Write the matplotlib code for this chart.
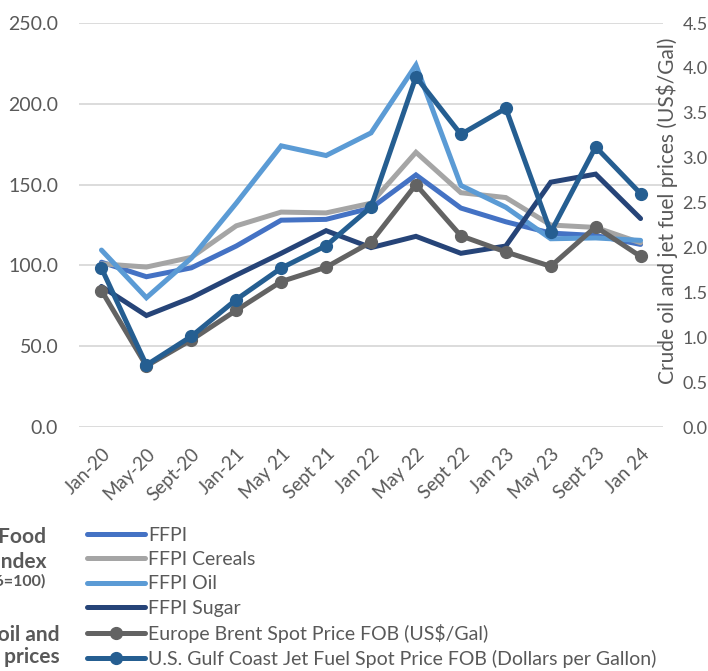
import matplotlib
matplotlib.use("Agg")
import matplotlib.pyplot as plt
from matplotlib.ticker import FormatStrFormatter

plt.rcParams['font.family'] = ['Lato', 'DejaVu Sans']

# data
periods = ["Jan-20", "May-20", "Sept-20", "Jan-21", "May 21", "Sept 21", "Jan 22",
           "May 22", "Sept 22", "Jan 23", "May 23", "Sept 23", "Jan 24"]

ffpi = [102.0, 93.0, 98.5, 112.0, 128.0, 128.5, 135.5, 156.0, 135.5, 127.0, 120.0, 118.5, 113.0]
ffpi_cereals = [101.0, 99.0, 105.0, 124.5, 133.0, 132.5, 138.5, 170.0, 145.0, 142.0, 125.0, 123.5, 114.0]
ffpi_oil = [109.5, 80.0, 104.5, 138.5, 174.0, 168.0, 182.0, 224.0, 149.5, 136.0, 116.5, 117.0, 115.5]
ffpi_sugar = [87.0, 69.0, 80.0, 94.0, 107.5, 121.5, 111.0, 118.0, 107.5, 112.0, 151.5, 156.5, 129.0]

brent = [1.52, 0.68, 0.97, 1.30, 1.62, 1.78, 2.06, 2.70, 2.13, 1.95, 1.79, 2.23, 1.90]
jet_fuel = [1.77, 0.69, 1.01, 1.42, 1.77, 2.02, 2.45, 3.90, 3.26, 3.55, 2.17, 3.12, 2.60]

left_names = ["FFPI", "FFPI Cereals", "FFPI Oil", "FFPI Sugar"]
right_names = ["Europe Brent Spot Price FOB (US$/Gal)",
               "U.S. Gulf Coast Jet Fuel Spot Price FOB (Dollars per Gallon)"]

grey = "#595959"
fig = plt.figure(figsize=(7.08, 6.71), dpi=100)
ax = fig.add_axes([0.1116, 0.3636, 0.8249, 0.6021])
ax2 = ax.twinx()

x = range(len(periods))
handles = []
for vals, name, col in zip([ffpi, ffpi_cereals, ffpi_oil, ffpi_sugar], left_names,
                           ["#4472C4", "#A5A5A5", "#5B9BD5", "#264478"]):
    h, = ax.plot(x, vals, color=col, lw=3.6, label=name, solid_capstyle="round",
                 solid_joinstyle="miter")
    handles.append(h)
for vals, name, col in zip([brent, jet_fuel], right_names, ["#636363", "#255E91"]):
    h, = ax2.plot(x, vals, color=col, lw=3.6, marker="o", ms=8.5, label=name,
                  solid_capstyle="round")
    handles.append(h)

ax.set_xlim(-0.5, len(periods) - 0.5)
ax.set_ylim(0, 250)
ax.set_yticks(range(0, 251, 50))
ax.yaxis.set_major_formatter(FormatStrFormatter("%.1f"))
ax2.set_ylim(0, 4.5)
ax2.set_yticks([i * 0.5 for i in range(10)])
ax2.yaxis.set_major_formatter(FormatStrFormatter("%.1f"))

ax.grid(axis="y", color="#D9D9D9", lw=1.3)
ax.set_axisbelow(True)
for a in (ax, ax2):
    for s in a.spines.values():
        s.set_visible(False)
ax.tick_params(axis="y", length=0, pad=15, labelsize=14, labelcolor=grey)
ax2.tick_params(axis="y", length=0, pad=14, labelsize=13, labelcolor=grey)
ax.set_xticks(list(x))
ax.set_xticklabels(periods, rotation=45, ha="right", rotation_mode="anchor")
ax.tick_params(axis="x", length=0, pad=13, labelsize=13.5, labelcolor=grey)

fig.text(0.942, 1 - 211 / 671, "Crude oil and jet fuel prices (US$/Gal)", rotation=90,
         ha="center", va="center", fontsize=15, color=grey)

# legend and the side captions (cut off at the left edge like the source)
fig.legend(handles=handles, loc="upper left", bbox_to_anchor=(0.123, 1 - 527 / 671),
           frameon=False, fontsize=14, labelcolor=grey, handlelength=3.0,
           handletextpad=0.15, labelspacing=0.37, numpoints=1, borderpad=0, borderaxespad=0)

side = [("FAO Food", 46, 537, 15), ("Price Index", 46, 562, 15),
        ("(2014-2016=100)", 46, 581, 11.5),
        ("Crude oil and", 60, 635, 15), ("jet fuel prices", 60, 657, 15)]
for txt, xx, yy, fs in side:
    fig.text(xx / 708, 1 - yy / 671, txt, ha="right", va="center", fontsize=fs,
             fontweight="bold", color=grey)

fig.savefig("out.png", dpi=100)
